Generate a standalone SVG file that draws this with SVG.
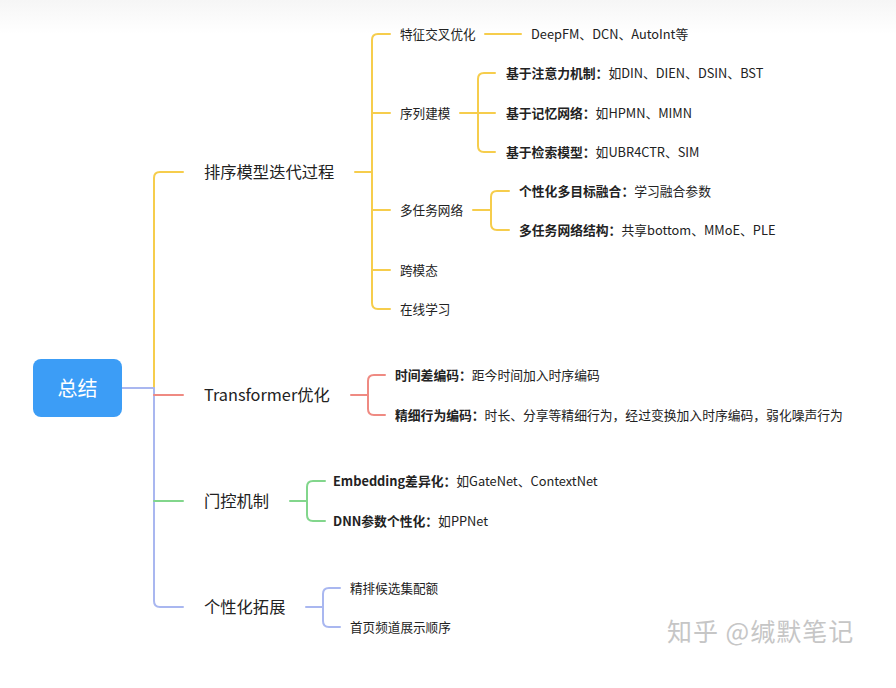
<svg xmlns="http://www.w3.org/2000/svg" width="896" height="688" viewBox="0 0 896 688">
<defs>
<linearGradient id="topfade" x1="0" y1="0" x2="0" y2="1">
<stop offset="0" stop-color="#f6f6f6"/>
<stop offset="1" stop-color="#ffffff"/>
</linearGradient>
</defs>
<style>
text{font-family:"Noto Sans CJK SC","Liberation Sans",sans-serif;fill:#222;dominant-baseline:central}
.l1{font-size:16.3px}
.l2{font-size:12.6px}
.l3{font-size:12.8px}
.b{font-weight:bold}
.ln{fill:none;stroke-width:2;stroke-linecap:round}
.y{stroke:#f6cd4c}
.r{stroke:#ef8a82}
.g{stroke:#82d68c}
.bl{stroke:#a9b7f0}
.wm{font-size:25px;fill:#c6c6c6;letter-spacing:1px}
</style>
<rect x="0" y="0" width="896" height="688" fill="#ffffff"/>
<rect x="0" y="0" width="896" height="34" fill="url(#topfade)"/>

<g id="connectors">
<path class="ln y" d="M183,172 H160 Q154,172 154,178 V388"/>
<path class="ln bl" d="M122,388 H154 M154,388 V601 Q154,607 160,607 H183"/>
<path class="ln r" d="M154,395 H183"/>
<path class="ln g" d="M154,501 H183"/>

<path class="ln y" d="M355,172 H372 M390,34 H378 Q372,34 372,40 V303 Q372,309 378,309 H390 M372,113 H390 M372,210 H390 M372,270 H390"/>
<path class="ln y" d="M485,34 H521"/>
<path class="ln y" d="M460,113 H495 M495,73 H484 Q478,73 478,79 V146 Q478,152 484,152 H495"/>
<path class="ln y" d="M473,210 H491 M509,191 H497 Q491,191 491,197 V224 Q491,230 497,230 H509"/>

<path class="ln r" d="M351,395 H368 M385,375 H374 Q368,375 368,381 V409 Q368,415 374,415 H385"/>
<path class="ln g" d="M290,501 H307 M325,481 H313 Q307,481 307,487 V515 Q307,521 313,521 H325"/>
<path class="ln bl" d="M306,607 H323 M340,588 H329 Q323,588 323,594 V621 Q323,627 329,627 H340"/>
</g>

<g id="root">
<rect x="33" y="359" width="89" height="58" rx="8" fill="#3c9df6"/>
<text x="77.5" y="387" text-anchor="middle" style="font-size:20px;fill:#ffffff">总结</text>
</g>

<g id="n-rank"><text class="l1" x="204" y="171">排序模型迭代过程</text></g>
<g id="n-cross"><text class="l2" x="400" y="33">特征交叉优化</text></g>
<g id="n-cross-ex"><text class="l3" x="531" y="33">DeepFM、DCN、AutoInt等</text></g>
<g id="n-seq"><text class="l2" x="400" y="112">序列建模</text></g>
<g id="n-seq-att"><text class="l3" x="506" y="72"><tspan class="b">基于注意力机制：</tspan>如DIN、DIEN、DSIN、BST</text></g>
<g id="n-seq-mem"><text class="l3" x="506" y="112"><tspan class="b">基于记忆网络：</tspan>如HPMN、MIMN</text></g>
<g id="n-seq-ret"><text class="l3" x="506" y="151"><tspan class="b">基于检索模型：</tspan>如UBR4CTR、SIM</text></g>
<g id="n-mtl"><text class="l2" x="400" y="209">多任务网络</text></g>
<g id="n-mtl-fuse"><text class="l3" x="519" y="190"><tspan class="b">个性化多目标融合：</tspan>学习融合参数</text></g>
<g id="n-mtl-struct"><text class="l3" x="519" y="229"><tspan class="b">多任务网络结构：</tspan>共享bottom、MMoE、PLE</text></g>
<g id="n-modal"><text class="l2" x="400" y="269">跨模态</text></g>
<g id="n-online"><text class="l2" x="400" y="308">在线学习</text></g>

<g id="n-trans"><text class="l1" x="204" y="394">Transformer优化</text></g>
<g id="n-trans-time"><text class="l3" x="395" y="374"><tspan class="b">时间差编码：</tspan>距今时间加入时序编码</text></g>
<g id="n-trans-fine"><text class="l3" x="395" y="414"><tspan class="b">精细行为编码：</tspan>时长、分享等精细行为，经过变换加入时序编码，弱化噪声行为</text></g>

<g id="n-gate"><text class="l1" x="204" y="500">门控机制</text></g>
<g id="n-gate-emb"><text class="l3" x="333" y="480"><tspan class="b">Embedding差异化：</tspan>如GateNet、ContextNet</text></g>
<g id="n-gate-dnn"><text class="l3" x="333" y="520"><tspan class="b">DNN参数个性化：</tspan>如PPNet</text></g>

<g id="n-pers"><text class="l1" x="204" y="606">个性化拓展</text></g>
<g id="n-pers-quota"><text class="l2" x="350" y="587">精排候选集配额</text></g>
<g id="n-pers-order"><text class="l2" x="350" y="626">首页频道展示顺序</text></g>

<text class="wm" x="667" y="630">知乎 @缄默笔记</text>
</svg>
